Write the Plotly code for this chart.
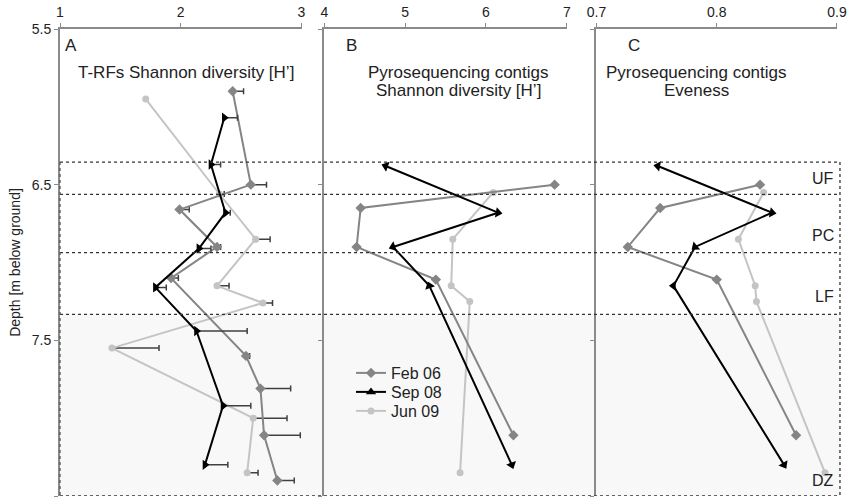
import plotly.graph_objects as go

# ---------------- data ----------------
# Panel A: T-RFs Shannon diversity (with +error)
feb_depth_a = [5.90, 6.50, 6.66, 6.90, 7.10, 7.60, 7.81, 8.11, 8.40]
feb_a = [2.43, 2.58, 1.99, 2.30, 1.92, 2.54, 2.66, 2.69, 2.80]
feb_err_a = [0.09, 0.13, 0.08, 0.03, 0.06, 0.03, 0.25, 0.30, 0.14]

sep_depth_a = [6.07, 6.37, 6.68, 6.91, 7.16, 7.44, 7.92, 8.30]
sep_a = [2.36, 2.25, 2.37, 2.15, 1.79, 2.13, 2.35, 2.20]
sep_err_a = [0.11, 0.08, 0.04, 0.10, 0.09, 0.42, 0.23, 0.19]

jun_depth_a = [5.95, 6.56, 6.85, 7.15, 7.26, 7.55, 8.00, 8.35]
jun_a = [1.71, 2.32, 2.62, 2.30, 2.68, 1.43, 2.60, 2.55]
jun_err_a = [0.0, 0.04, 0.12, 0.10, 0.08, 0.39, 0.28, 0.09]

# Panels B and C: pyrosequencing contigs
feb_depth_bc = [6.50, 6.65, 6.90, 7.11, 8.11]
sep_depth_bc = [6.38, 6.68, 6.90, 7.15, 8.30]
jun_depth_bc = [6.55, 6.85, 7.15, 7.25, 8.35]

feb_b = [6.85, 4.45, 4.40, 5.38, 6.34]
sep_b = [4.76, 6.15, 4.85, 5.30, 6.32]
jun_b = [6.09, 5.59, 5.57, 5.80, 5.68]

feb_c = [0.836, 0.753, 0.726, 0.800, 0.866]
sep_c = [0.751, 0.846, 0.782, 0.764, 0.856]
jun_c = [0.839, 0.818, 0.832, 0.833, 0.890]

zone_bounds = [6.355, 6.563, 6.936, 7.333]
zone_labels = ["UF", "PC", "LF", "DZ"]
zone_label_depth = [6.46, 6.825, 7.22, 8.40]

series_names = ["Feb 06", "Sep 08", "Jun 09"]
y_ticks = [5.5, 6.5, 7.5, 8.5]

# ---------------- style ----------------
FONT = "Arial, Liberation Sans, sans-serif"
C_FEB = "#858585"
C_SEP = "#000000"
C_JUN = "#c4c4c4"
C_ERR = "#404040"
AX = "#8a8a8a"
TXT = "#222222"

# marker orientations (degrees) for the Sep 08 arrow-like triangles
sep_angle_b = [290, 100, 250, 340, 160]
sep_angle_c = [280, 100, 230, 270, 150]

fig = go.Figure()

def add_series(x, y, name, color, symbol, size, xa, ya, legend=None, err=None, angle=None):
    marker = dict(color=color, symbol=symbol, size=size)
    if angle is not None:
        marker["angle"] = angle
    kw = {}
    if err is not None:
        kw["error_x"] = dict(type="data", symmetric=False, array=err,
                             arrayminus=[0] * len(err), color=C_ERR,
                             thickness=1.5, width=3)
    if legend:
        kw["legend"] = legend
    fig.add_trace(go.Scatter(x=x, y=y, name=name, mode="lines+markers",
                             line=dict(color=color, width=2), marker=marker,
                             xaxis=xa, yaxis=ya, showlegend=legend is not None,
                             **kw))

# Panel A
add_series(jun_a, jun_depth_a, series_names[2], C_JUN, "circle", 7, "x", "y", None, jun_err_a)
add_series(feb_a, feb_depth_a, series_names[0], C_FEB, "diamond", 8, "x", "y", None, feb_err_a)
add_series(sep_a, sep_depth_a, series_names[1], C_SEP, "triangle-right", 9, "x", "y", None, sep_err_a)
# Panel B (legend entries here)
add_series(jun_b, jun_depth_bc, series_names[2], C_JUN, "circle", 7, "x2", "y2", "legend3")
add_series(feb_b, feb_depth_bc, series_names[0], C_FEB, "diamond", 8, "x2", "y2", "legend")
add_series(sep_b, sep_depth_bc, series_names[1], C_SEP, "triangle-up", 9, "x2", "y2", None, None, sep_angle_b)
# legend-only entry for Sep 08 (upright triangle, as in the key)
fig.add_trace(go.Scatter(x=[None], y=[None], name=series_names[1], mode="lines+markers",
                         line=dict(color=C_SEP, width=2),
                         marker=dict(color=C_SEP, symbol="triangle-up", size=9),
                         xaxis="x2", yaxis="y2", legend="legend2", showlegend=True))
# Panel C
add_series(jun_c, jun_depth_bc, series_names[2], C_JUN, "circle", 7, "x3", "y3")
add_series(feb_c, feb_depth_bc, series_names[0], C_FEB, "diamond", 8, "x3", "y3")
add_series(sep_c, sep_depth_bc, series_names[1], C_SEP, "triangle-up", 9, "x3", "y3", None, None, sep_angle_c)

L, R, T, B = 60, 5, 29, 3
W, H = 850, 499
pw = W - L - R
ph = H - T - B

def px(v):
    return (v - L) / pw

def py(v):
    return 1 - (v - T) / ph

dom_a = [0, px(304)]
dom_b = [px(327), px(572)]
dom_c = [px(602), 1]

xcommon = dict(side="top", showline=True, linecolor=AX, linewidth=2,
               ticks="outside", ticklen=4, tickcolor=AX, showgrid=False,
               zeroline=False, ticklabeloverflow="allow",
               tickfont=dict(size=14, color=TXT, family=FONT))
ycommon = dict(range=[8.5, 5.5], tickvals=y_ticks, showline=True, linecolor=AX,
               linewidth=2, ticks="outside", ticklen=4, tickcolor=AX,
               showgrid=False, zeroline=False,
               tickfont=dict(size=14, color=TXT, family=FONT))

def leg(ytop):
    return dict(x=px(354), y=py(ytop), xanchor="left", yanchor="middle",
                bgcolor="rgba(0,0,0,0)", font=dict(size=16, family=FONT, color=TXT))

fig.update_layout(
    width=W, height=H,
    margin=dict(l=L, r=R, t=T, b=B),
    paper_bgcolor="white", plot_bgcolor="rgba(0,0,0,0)",
    font=dict(family=FONT, color=TXT),
    xaxis=dict(domain=dom_a, range=[1, 3], tickvals=[1, 2, 3], anchor="y", **xcommon),
    xaxis2=dict(domain=dom_b, range=[4, 7], tickvals=[4, 5, 6, 7], anchor="y2", **xcommon),
    xaxis3=dict(domain=dom_c, range=[0.7, 0.9], tickvals=[0.7, 0.8, 0.9],
                ticktext=["0.7", "0.8", "0.9"], anchor="y3", **xcommon),
    yaxis=dict(anchor="x", ticktext=[str(v) for v in y_ticks],
               title=dict(text="Depth [m below ground]", font=dict(size=14, family=FONT, color=TXT),
                          standoff=8), **ycommon),
    yaxis2=dict(anchor="x2", matches="y", showticklabels=False, **ycommon),
    yaxis3=dict(anchor="x3", matches="y", showticklabels=False, **ycommon),
    legend=leg(373),
    legend2=leg(392),
    legend3=leg(411),
)

# shaded lower zone and dotted zone lines
x_right = px(848)
fig.add_shape(type="rect", xref="paper", yref="y", x0=0, x1=x_right,
              y0=zone_bounds[3], y1=8.5, fillcolor="#f8f8f8", line=dict(width=0),
              layer="below")
dot = dict(color="#333", width=1.3, dash="dot")
for yb in zone_bounds:
    fig.add_shape(type="line", xref="paper", yref="y", x0=0, x1=x_right,
                  y0=yb, y1=yb, line=dot, layer="above")
fig.add_shape(type="line", xref="paper", yref="y", x0=0, x1=x_right,
              y0=8.5, y1=8.5, line=dot, layer="above")
fig.add_shape(type="line", xref="paper", yref="y", x0=x_right, x1=x_right,
              y0=zone_bounds[0], y1=8.5, line=dot, layer="above")
fig.add_shape(type="line", xref="paper", yref="y", x0=0, x1=0,
              y0=zone_bounds[0], y1=8.5, line=dict(color="#555", width=1.3, dash="dot"),
              layer="above")

for lab, d in zip(zone_labels, zone_label_depth):
    fig.add_annotation(text=lab, xref="paper", yref="y", x=px(844), y=d,
                       xanchor="right", yanchor="middle", showarrow=False,
                       font=dict(size=16, family=FONT, color=TXT))

def ann(text, x, y, anchor="center", size=17):
    fig.add_annotation(text=text, xref="paper", yref="paper", x=px(x),
                       y=py(y), xanchor=anchor, yanchor="middle",
                       showarrow=False, align="center",
                       font=dict(size=size, family=FONT, color=TXT))

ann("A", 63, 45, "left", 17)
ann("T-RFs Shannon diversity [H’]", 187, 72)
ann("B", 347, 45, "left", 17)
ann("Pyrosequencing contigs", 463, 72)
ann("Shannon diversity [H’]", 463, 90)
ann("C", 632, 45, "left", 17)
ann("Pyrosequencing contigs", 703, 72)
ann("Eveness", 703, 90)

fig.write_html("out.html")
